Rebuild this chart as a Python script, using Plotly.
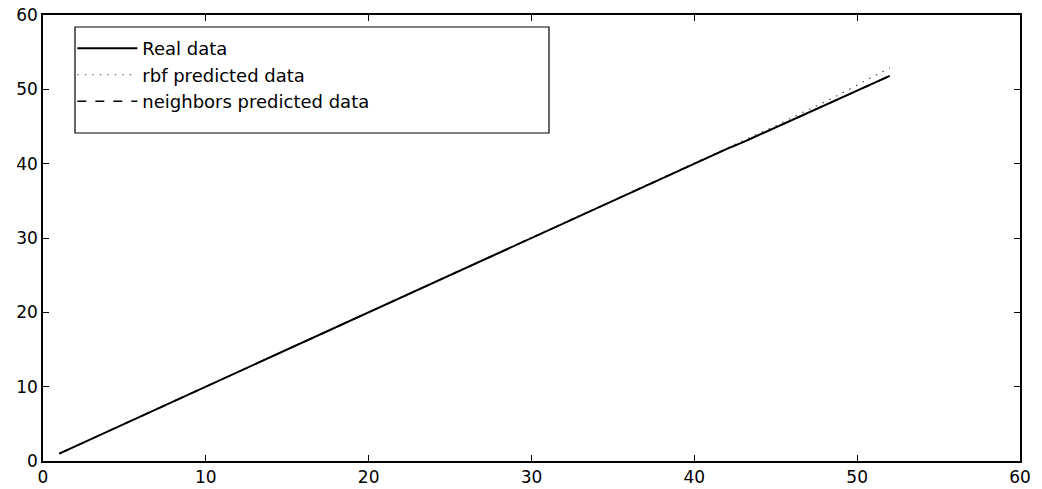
import plotly.graph_objects as go

x_vals = list(range(1, 53))
real_data = [1, 2, 3, 4, 5, 6, 7, 8, 9, 10,
             11, 12, 13, 14, 15, 16, 17, 18, 19, 20,
             21, 22, 23, 24, 25, 26, 27, 28, 29, 30,
             31, 32, 33, 34, 35, 36, 37, 38, 39, 40,
             41, 42, 42.9, 43.9, 44.8, 45.8, 46.8, 47.8, 48.8, 49.8,
             50.8, 51.8]
rbf_pred = [1, 2, 3, 4, 5, 6, 7, 8, 9, 10,
            11, 12, 13, 14, 15, 16, 17, 18, 19, 20,
            21, 22, 23, 24, 25, 26, 27, 28, 29, 30,
            31, 32, 33, 34, 35, 36, 37, 38, 39, 40,
            41, 42, 43.1, 44.1, 45.1, 46.2, 47.2, 48.3, 49.4, 50.6,
            51.7, 52.9]
neighbors_pred = [1, 2, 3, 4, 5, 6, 7, 8, 9, 10,
                  11, 12, 13, 14, 15, 16, 17, 18, 19, 20,
                  21, 22, 23, 24, 25, 26, 27, 28, 29, 30,
                  31, 32, 33, 34, 35, 36, 37, 38, 39, 40,
                  41, 42, 42.9, 43.9, 44.8, 45.8, 46.8, 47.8, 48.8, 49.8,
                  50.8, 51.8]

x_ticks = [0, 10, 20, 30, 40, 50, 60]
y_ticks = [0, 10, 20, 30, 40, 50, 60]

FONT = "DejaVu Sans, Verdana, sans-serif"

fig = go.Figure()
fig.add_trace(go.Scatter(x=x_vals, y=real_data, mode="lines", name="Real data",
                         line=dict(color="black", width=2)))
fig.add_trace(go.Scatter(x=x_vals, y=rbf_pred, mode="lines", name="rbf predicted data",
                         line=dict(color="rgba(0,0,0,0.7)", width=1.2, dash="1.5px,6px")))
fig.add_trace(go.Scatter(x=x_vals, y=neighbors_pred, mode="lines", name="neighbors predicted data",
                         line=dict(color="black", width=1.5, dash="dash")))

axis_common = dict(showgrid=False, zeroline=False, showline=True, linecolor="black",
                   linewidth=1.5, mirror="ticks", ticks="inside", ticklen=6,
                   tickwidth=1.2, tickcolor="black", automargin=False,
                   tickfont=dict(family=FONT, size=17, color="black"))

fig.update_layout(
    width=1042, height=489,
    margin=dict(l=43, r=22, t=15, b=28),
    paper_bgcolor="white", plot_bgcolor="white",
    xaxis=dict(range=[0, 60], tickvals=x_ticks, ticktext=[str(v) for v in x_ticks], **axis_common),
    yaxis=dict(range=[0, 60], tickvals=y_ticks, ticktext=[str(v) for v in y_ticks], **axis_common),
    showlegend=True,
    legend=dict(x=0.03, y=0.966, xanchor="left", yanchor="top",
                bgcolor="rgba(0,0,0,0)", borderwidth=0,
                font=dict(family=FONT, size=18, color="black"),
                itemwidth=60, tracegroupgap=0),
    shapes=[dict(type="rect", xref="paper", yref="paper",
                 x0=(75 - 43) / 977, x1=(549 - 43) / 977,
                 y0=(461 - 133) / 446, y1=(461 - 27) / 446,
                 line=dict(color="black", width=1.2), fillcolor="rgba(0,0,0,0)")],
)

fig.write_html("out.html")
